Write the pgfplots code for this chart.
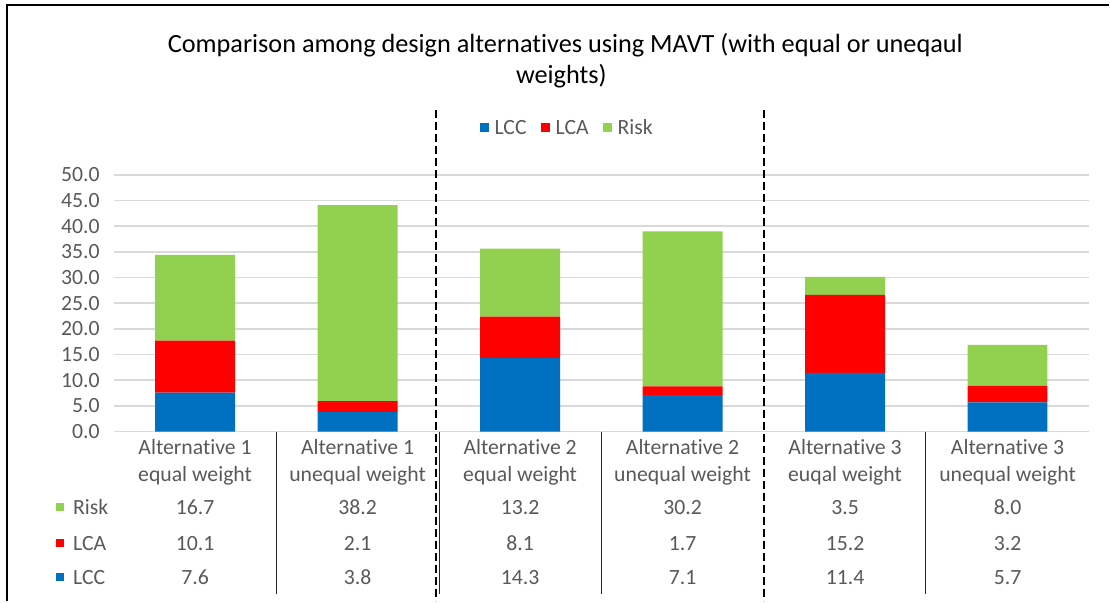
\documentclass[border=0pt]{standalone}
\usepackage{fontspec}
\setmainfont{Carlito}[Ligatures={NoCommon}]
\usepackage{pgfplots}
\pgfplotsset{compat=1.18}
\definecolor{cLCC}{HTML}{0070C0}
\definecolor{cLCA}{HTML}{FF0000}
\definecolor{cRisk}{HTML}{92D050}
\definecolor{txt}{HTML}{595959}
\definecolor{gridc}{HTML}{D9D9D9}
\newcommand{\lab}{\fontsize{21.75}{26}\selectfont}
\newcommand{\ttl}{\fontsize{26.3}{32}\selectfont}
\pgfplotsset{sqleg/.style={legend image code/.code={\fill[##1] (0pt,-4.5pt) rectangle (9pt,4.5pt);}}}
\begin{document}
\begin{tikzpicture}
\begin{scope}[x=1pt,y=-1pt]
\path[use as bounding box] (0,0) rectangle (1110,602);
\end{scope}
\begin{axis}[
  at={(114pt,-432pt)}, anchor=south west,
  scale only axis, width=976pt, height=257pt,
  ybar stacked, bar width=80pt,
  xmin=-0.5, xmax=5.5, ymin=0, ymax=50,
  xtick=\empty, ytick={0,5,...,50},
  ymajorgrids, grid style={gridc, line width=1.5pt},
  axis line style={draw=none}, tick style={draw=none},
  yticklabel style={text=txt, font=\lab, inner sep=0pt, xshift=-14pt,
    /pgf/number format/.cd, fixed, fixed zerofill, precision=1, assume math mode=true},
  legend style={at={(rel axis cs:0.465,1.183)}, anchor=center, draw=none, fill=none,
    legend columns=-1, font=\lab, text=txt,
    /tikz/every odd column/.append style={column sep=4pt},
    /tikz/every even column/.append style={column sep=12pt}},
  clip=false,
]
\addplot[fill=cLCC, draw=none, sqleg] coordinates {(0,7.6) (1,3.8) (2,14.3) (3,7.1) (4,11.4) (5,5.7)};
\addplot[fill=cLCA, draw=none, sqleg] coordinates {(0,10.1) (1,2.1) (2,8.1) (3,1.7) (4,15.2) (5,3.2)};
\addplot[fill=cRisk, draw=none, sqleg] coordinates {(0,16.7) (1,38.2) (2,13.2) (3,30.2) (4,3.5) (5,8.0)};
\legend{LCC,LCA,Risk}
\end{axis}
\begin{scope}[x=1pt,y=-1pt]
% frame
\draw[line width=2.5pt] (7,602) -- (7,5) -- (1110,5);
% title
\node[font=\ttl, anchor=center] at (566,45) {Comparison among design alternatives using MAVT (with equal or uneqaul};
\node[font=\ttl, anchor=center] at (562,76) {weights)};
% table lines
\foreach \xx in {277,440,602,927} \draw[black!85, line width=1pt] (\xx,432) -- (\xx,595);
% dashed separators
\foreach \xx in {436.5,765} \draw[black, line width=1.3pt, dash pattern=on 8pt off 4pt] (\xx,110) -- (\xx,602);
% category labels
\foreach \xx/\la/\lb in {195.3/Alternative 1/equal weight, 358/Alternative 1/unequal weight,
  520.7/Alternative 2/equal weight, 683.3/Alternative 2/unequal weight,
  846/Alternative 3/euqal weight, 1008.7/Alternative 3/unequal weight} {
  \node[font=\lab, text=txt] at (\xx,448) {\la};
  \node[font=\lab, text=txt] at (\xx,476) {\lb};
}
% data table values
\foreach \xx/\r/\a/\c in {195.3/16.7/10.1/7.6, 358/38.2/2.1/3.8, 520.7/13.2/8.1/14.3,
  683.3/30.2/1.7/7.1, 846/3.5/15.2/11.4, 1008.7/8.0/3.2/5.7} {
  \node[font=\lab, text=txt] at (\xx,508) {\r};
  \node[font=\lab, text=txt] at (\xx,544) {\a};
  \node[font=\lab, text=txt] at (\xx,578) {\c};
}
% row keys
\fill[cRisk] (56,504) rectangle (64,512);
\fill[cLCA] (56,540) rectangle (64,548);
\fill[cLCC] (56,574) rectangle (64,582);
\node[font=\lab, text=txt, anchor=west, inner sep=0pt] at (73,508) {Risk};
\node[font=\lab, text=txt, anchor=west, inner sep=0pt] at (73,544) {LCA};
\node[font=\lab, text=txt, anchor=west, inner sep=0pt] at (73,578) {LCC};
\end{scope}
\end{tikzpicture}
\end{document}
